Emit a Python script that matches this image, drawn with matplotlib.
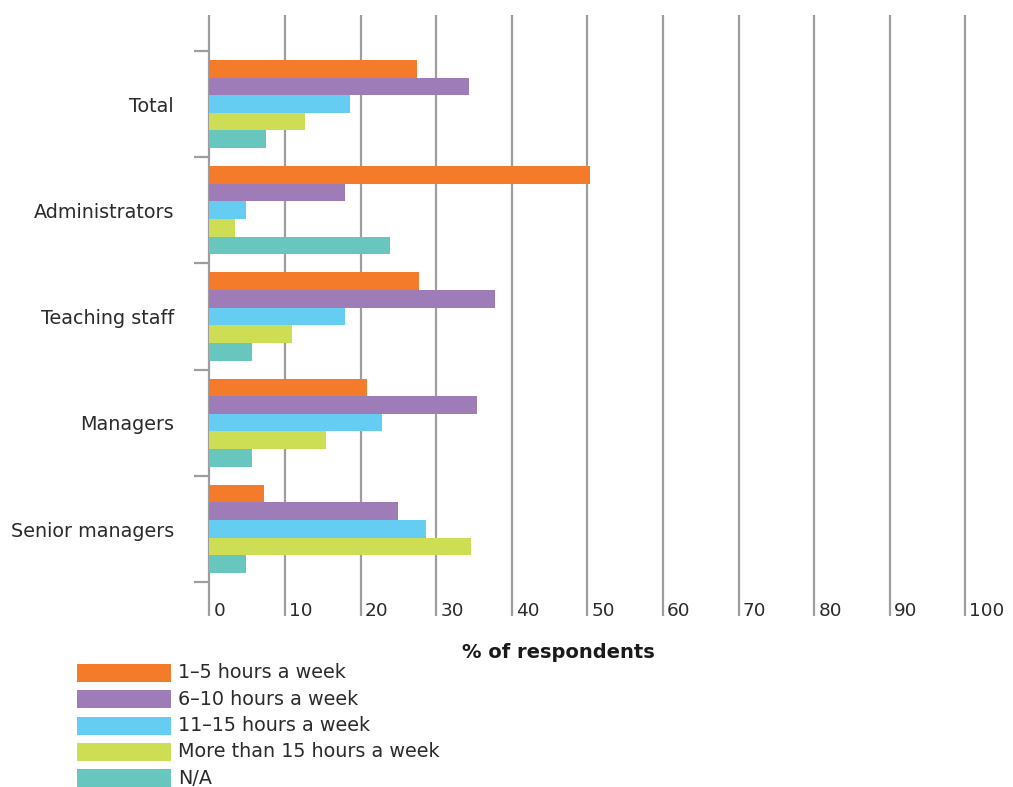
import matplotlib
matplotlib.use("Agg")
import matplotlib.pyplot as plt
from matplotlib.patches import Rectangle
from matplotlib.transforms import blended_transform_factory

# groups (top to bottom) and the share of respondents in each band
groups = ["Total", "Administrators", "Teaching staff", "Managers", "Senior managers"]
series_names = ["1\u20135 hours a week", "6\u201310 hours a week", "11\u201315 hours a week",
                "More than 15 hours a week", "N/A"]
hours_1_5 = [27.5, 50.3, 27.8, 20.9, 7.3]
hours_6_10 = [34.4, 17.9, 37.8, 35.4, 24.9]
hours_11_15 = [18.6, 4.8, 18.0, 22.9, 28.6]
hours_15_plus = [12.7, 3.4, 10.9, 15.4, 34.6]
not_answered = [7.5, 23.9, 5.7, 5.6, 4.8]
x_ticks = list(range(0, 101, 10))

series = [hours_1_5, hours_6_10, hours_11_15, hours_15_plus, not_answered]
colors = ["#F47B2A", "#9E7CB8", "#66CDF2", "#CEDE54", "#67C6BE"]
grey = "#9D9D9F"
text_col = "#2B2B2B"

plt.rcParams["font.family"] = ["DejaVu Sans"]

W, H = 1013, 787
fig = plt.figure(figsize=(W / 100, H / 100), dpi=100)
ax_left, ax_right, ax_top, ax_bottom = 209.3, 965.3, 15, 616
ax = fig.add_axes([ax_left / W, 1 - ax_bottom / H, (ax_right - ax_left) / W, (ax_bottom - ax_top) / H])

ymin, ymax = -0.838, 4.82
ax.set_xlim(0, 100)
ax.set_ylim(ymax, ymin)

bar_h = 0.166
for i, (vals, col) in enumerate(zip(series, colors)):
    offs = (i - 2) * bar_h
    ax.barh([g + offs for g in range(len(groups))], vals, height=bar_h,
            color=col, linewidth=0, zorder=3)

# vertical grid lines run through the tick label area
ax.vlines(x_ticks, ymin, ymax, colors=grey, linewidth=1.6, zorder=1, clip_on=False)
for t in x_ticks:
    ax.text(t + 0.55, 4.775, str(t), ha="left", va="center", fontsize=13.3, color=text_col)

for s in ax.spines.values():
    s.set_visible(False)
ax.set_xticks([])
ax.set_yticks([g - 0.5 for g in range(len(groups) + 1)])
ax.set_yticklabels([])
ax.tick_params(axis="y", length=10.5, width=1.6, color=grey, direction="out")

trans = blended_transform_factory(fig.transFigure, ax.transData)
for g, name in enumerate(groups):
    ax.text(174 / W, g + 0.02, name, transform=trans, ha="right", va="center",
            fontsize=13.8, color=text_col)

fig.text(558 / W, 1 - 653 / H, "% of respondents", ha="center", va="center",
         fontsize=14, fontweight="bold", color="#1A1A1A")

# legend drawn as swatches with labels
for i, (name, col) in enumerate(zip(series_names, colors)):
    yc = 673 + i * 26.3
    fig.add_artist(Rectangle((77 / W, 1 - (yc + 9) / H), 94 / W, 18 / H,
                             transform=fig.transFigure, color=col, linewidth=0))
    fig.text(178 / W, 1 - yc / H, name, ha="left", va="center", fontsize=13.8, color=text_col)

fig.savefig("out.png", dpi=100)
